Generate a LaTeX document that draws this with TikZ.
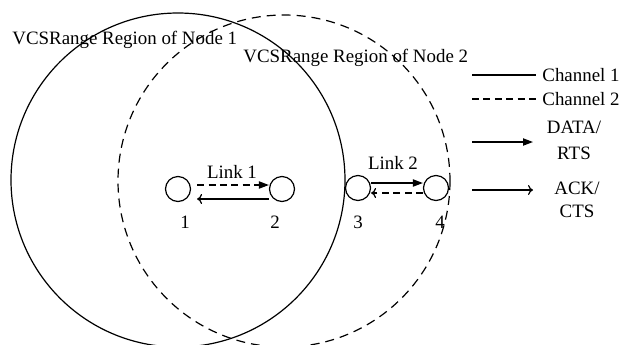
\documentclass[tikz,border=0pt]{standalone}
\usepackage{fontspec}
\setmainfont{Liberation Serif}
\usetikzlibrary{arrows.meta,positioning}
\tikzset{
  station/.style={draw,circle,minimum size=12.5pt,inner sep=0pt,line width=0.6pt},
  chdash/.style={dash pattern=on 3.5pt off 2.2pt},
  data/.style={-{Triangle[length=5pt,width=3.6pt]},line width=0.7pt},
  ack/.style={-{To[length=2.5pt,width=5pt]},line width=0.6pt},
  legtext/.style={anchor=west,inner sep=1pt}
}
\begin{document}
\begin{tikzpicture}[x=0.5pt,y=-0.5pt,font=\fontsize{9.45}{11.5}\selectfont]
\useasboundingbox (0,0) rectangle (622,344);
\coordinate (c1) at (178,180);
\coordinate (c2) at (284,181);
% VCS range regions
\draw[line width=0.6pt] (c1) circle [radius=167];
\draw[line width=0.6pt,dash pattern=on 4.5pt off 3pt] (c2) circle [radius=166];
\node[anchor=west,inner sep=0pt] (r1) at (12,40) {VCSRange Region of Node 1};
\node[anchor=west,inner sep=0pt] (r2) at (243,58) {VCSRange Region of Node 2};
% Stations
\node[station] (n1) at (178,189) {};
\node[station] (n2) at (282,189) {};
\node[station] (n3) at (358,188) {};
\node[station] (n4) at (436,188) {};
\node at (185,222) {1};
\node at (275,222) {2};
\node at (358,222) {3};
\node at (440,222) {4};
% Link 1
\node (l1) at (232,172) {Link 1};
\draw[data,chdash] ([xshift=3pt,yshift=2pt]n1.east) -- ([yshift=2pt]n2.west);
\draw[ack] ([yshift=-5pt]n2.west) -- ([xshift=3pt,yshift=-5pt]n1.east);
% Link 2
\node (l2) at (393,163) {Link 2};
\draw[data] ([yshift=2.5pt]n3.east) -- ([yshift=2.5pt]n4.west);
\draw[ack,chdash] ([yshift=-2.5pt]n4.west) -- ([yshift=-2.5pt]n3.east);
% Legend
\node[legtext] (ch1) at (540,75) {Channel 1};
\node[legtext] (ch2) at (540,99) {Channel 2};
\node[align=center,inner sep=1pt] (dat) at (574,140) {DATA/\\[1.5pt]RTS};
\node[align=center,inner sep=1pt] (ack) at (577,200) {ACK/\\CTS};
\coordinate (ch1s) at (472,75);
\coordinate (ch2s) at (472,99);
\coordinate (dats) at (472,142);
\coordinate (date) at (533,142);
\coordinate (acks) at (472,190);
\coordinate (acke) at (533,190);
\draw[line width=0.6pt] (ch1s) -- ([xshift=-2pt]ch1.west);
\draw[line width=0.6pt,chdash] (ch2s) -- ([xshift=-2pt]ch2.west);
\draw[data] (dats) -- (date);
\draw[ack] (acks) -- (acke);
\end{tikzpicture}
\end{document}
